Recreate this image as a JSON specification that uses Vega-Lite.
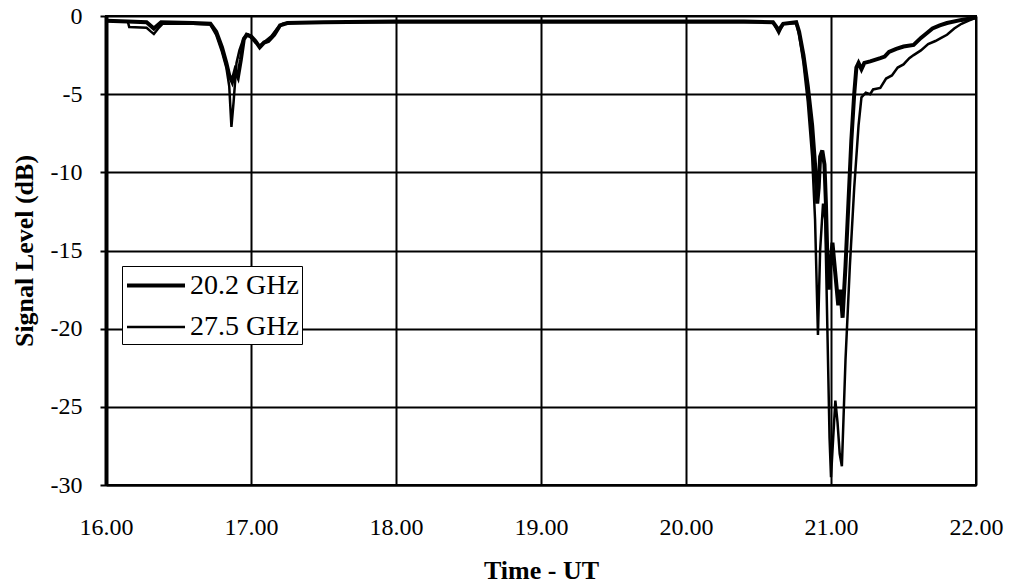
{
  "$schema": "https://vega.github.io/schema/vega-lite/v6.json",
  "autosize": "none",
  "padding": {"left": 106, "top": 16, "right": 36, "bottom": 99},
  "width": 870,
  "height": 469,
  "background": "white",
  "config": {
    "view": {"stroke": "black", "strokeWidth": 2},
    "font": "Liberation Serif"
  },
  "datasets": {
    "s20": [
      {"t": 16.00, "v": -0.3}, {"t": 16.15, "v": -0.35}, {"t": 16.28, "v": -0.4}, {"t": 16.33, "v": -0.8}, {"t": 16.38, "v": -0.4},
      {"t": 16.60, "v": -0.45}, {"t": 16.72, "v": -0.5}, {"t": 16.76, "v": -1.0}, {"t": 16.80, "v": -2.0}, {"t": 16.83, "v": -3.0},
      {"t": 16.85, "v": -3.8}, {"t": 16.87, "v": -4.2}, {"t": 16.89, "v": -3.5}, {"t": 16.91, "v": -3.9}, {"t": 16.93, "v": -2.8},
      {"t": 16.95, "v": -1.5}, {"t": 16.97, "v": -1.2}, {"t": 17.00, "v": -1.3}, {"t": 17.03, "v": -1.6}, {"t": 17.06, "v": -2.0},
      {"t": 17.09, "v": -1.7}, {"t": 17.12, "v": -1.6}, {"t": 17.16, "v": -1.2}, {"t": 17.20, "v": -0.6}, {"t": 17.25, "v": -0.45},
      {"t": 17.50, "v": -0.4}, {"t": 18.00, "v": -0.35}, {"t": 18.50, "v": -0.35}, {"t": 19.00, "v": -0.35}, {"t": 19.50, "v": -0.35},
      {"t": 20.00, "v": -0.35}, {"t": 20.40, "v": -0.35}, {"t": 20.60, "v": -0.4}, {"t": 20.64, "v": -0.9}, {"t": 20.67, "v": -0.5},
      {"t": 20.76, "v": -0.4}, {"t": 20.78, "v": -1.0}, {"t": 20.81, "v": -2.5}, {"t": 20.84, "v": -4.5}, {"t": 20.87, "v": -7.0},
      {"t": 20.89, "v": -9.5}, {"t": 20.905, "v": -12.0}, {"t": 20.915, "v": -11.0}, {"t": 20.925, "v": -9.0}, {"t": 20.94, "v": -8.6},
      {"t": 20.955, "v": -9.5}, {"t": 20.965, "v": -12.0}, {"t": 20.975, "v": -15.5}, {"t": 20.985, "v": -17.5}, {"t": 20.995, "v": -16.0},
      {"t": 21.01, "v": -14.5}, {"t": 21.02, "v": -15.5}, {"t": 21.035, "v": -17.0}, {"t": 21.05, "v": -18.5}, {"t": 21.065, "v": -17.5},
      {"t": 21.08, "v": -19.3}, {"t": 21.10, "v": -16.0}, {"t": 21.12, "v": -12.0}, {"t": 21.14, "v": -8.0}, {"t": 21.16, "v": -5.0},
      {"t": 21.175, "v": -3.3}, {"t": 21.19, "v": -3.0}, {"t": 21.21, "v": -3.4}, {"t": 21.23, "v": -3.0}, {"t": 21.27, "v": -2.9},
      {"t": 21.34, "v": -2.7}, {"t": 21.37, "v": -2.6}, {"t": 21.40, "v": -2.3}, {"t": 21.45, "v": -2.1}, {"t": 21.50, "v": -1.95},
      {"t": 21.57, "v": -1.85}, {"t": 21.62, "v": -1.4}, {"t": 21.66, "v": -1.1}, {"t": 21.70, "v": -0.8}, {"t": 21.75, "v": -0.6},
      {"t": 21.80, "v": -0.45}, {"t": 21.90, "v": -0.25}, {"t": 22.00, "v": -0.1}
    ],
    "s27": [
      {"t": 16.00, "v": -0.3}, {"t": 16.15, "v": -0.35}, {"t": 16.16, "v": -0.7}, {"t": 16.28, "v": -0.75}, {"t": 16.31, "v": -1.0},
      {"t": 16.33, "v": -1.15}, {"t": 16.36, "v": -0.8}, {"t": 16.39, "v": -0.5}, {"t": 16.60, "v": -0.5}, {"t": 16.72, "v": -0.55},
      {"t": 16.76, "v": -1.2}, {"t": 16.80, "v": -2.3}, {"t": 16.83, "v": -3.3}, {"t": 16.85, "v": -4.5}, {"t": 16.865, "v": -7.1},
      {"t": 16.88, "v": -5.5}, {"t": 16.90, "v": -3.0}, {"t": 16.92, "v": -2.2}, {"t": 16.95, "v": -1.4}, {"t": 16.98, "v": -1.2},
      {"t": 17.00, "v": -1.4}, {"t": 17.03, "v": -1.7}, {"t": 17.06, "v": -1.9}, {"t": 17.10, "v": -1.6}, {"t": 17.14, "v": -1.3},
      {"t": 17.18, "v": -0.8}, {"t": 17.22, "v": -0.5}, {"t": 17.30, "v": -0.4}, {"t": 18.00, "v": -0.4}, {"t": 19.00, "v": -0.4},
      {"t": 20.00, "v": -0.4}, {"t": 20.60, "v": -0.4}, {"t": 20.64, "v": -1.1}, {"t": 20.67, "v": -0.5}, {"t": 20.76, "v": -0.45},
      {"t": 20.78, "v": -1.2}, {"t": 20.81, "v": -3.0}, {"t": 20.84, "v": -5.5}, {"t": 20.87, "v": -9.0}, {"t": 20.89, "v": -13.0},
      {"t": 20.91, "v": -20.4}, {"t": 20.925, "v": -15.0}, {"t": 20.945, "v": -12.0}, {"t": 20.96, "v": -13.0}, {"t": 20.975, "v": -20.0},
      {"t": 20.99, "v": -27.0}, {"t": 21.00, "v": -29.5}, {"t": 21.015, "v": -27.0}, {"t": 21.03, "v": -24.6}, {"t": 21.045, "v": -26.0},
      {"t": 21.06, "v": -28.0}, {"t": 21.075, "v": -28.8}, {"t": 21.10, "v": -22.0}, {"t": 21.13, "v": -16.0}, {"t": 21.16, "v": -11.0},
      {"t": 21.19, "v": -7.0}, {"t": 21.21, "v": -5.2}, {"t": 21.24, "v": -4.9}, {"t": 21.27, "v": -5.0}, {"t": 21.29, "v": -4.7},
      {"t": 21.34, "v": -4.6}, {"t": 21.38, "v": -4.0}, {"t": 21.42, "v": -3.8}, {"t": 21.46, "v": -3.3}, {"t": 21.50, "v": -3.1},
      {"t": 21.54, "v": -2.7}, {"t": 21.57, "v": -2.5}, {"t": 21.62, "v": -2.2}, {"t": 21.67, "v": -1.8}, {"t": 21.72, "v": -1.6},
      {"t": 21.76, "v": -1.4}, {"t": 21.80, "v": -1.2}, {"t": 21.85, "v": -0.8}, {"t": 21.90, "v": -0.5}, {"t": 21.95, "v": -0.3},
      {"t": 22.00, "v": -0.1}
    ]
  },
  "layer": [
    {
      "data": {"name": "s20"},
      "transform": [{"calculate": "'20.2 GHz'", "as": "series"}],
      "mark": {"type": "line", "clip": true}
    },
    {
      "data": {"name": "s27"},
      "transform": [{"calculate": "'27.5 GHz'", "as": "series"}],
      "mark": {"type": "line", "clip": true}
    }
  ],
  "encoding": {
    "x": {
      "field": "t", "type": "quantitative",
      "scale": {"domain": [16, 22], "nice": false, "zero": false},
      "axis": {
        "values": [16, 17, 18, 19, 20, 21, 22], "format": ".2f", "labelFlush": false,
        "labelFont": "Liberation Serif", "labelFontSize": 24, "labelColor": "black",
        "tickSize": 0, "labelPadding": 30,
        "grid": true, "gridColor": "black", "gridWidth": 2, "gridOpacity": 1,
        "domainColor": "black", "domainWidth": 2,
        "title": "Time - UT", "titleFont": "Liberation Serif", "titleFontSize": 26, "titleFontWeight": "bold",
        "titleColor": "black", "titlePadding": 18
      }
    },
    "y": {
      "field": "v", "type": "quantitative",
      "scale": {"domain": [-30, 0], "nice": false},
      "axis": {
        "values": [0, -5, -10, -15, -20, -25, -30], "labelExpr": "toString(datum.value)", "labelFlush": false,
        "labelFont": "Liberation Serif", "labelFontSize": 24, "labelColor": "black",
        "tickSize": 6, "tickColor": "black", "tickWidth": 2, "labelPadding": 18,
        "grid": true, "gridColor": "black", "gridWidth": 2, "gridOpacity": 1,
        "domainColor": "black", "domainWidth": 4,
        "title": "Signal Level (dB)", "titleFont": "Liberation Serif", "titleFontSize": 26, "titleFontWeight": "bold",
        "titleColor": "black", "titlePadding": 13
      }
    },
    "color": {
      "field": "series", "type": "nominal",
      "scale": {"domain": ["20.2 GHz", "27.5 GHz"], "range": ["black", "black"]},
      "legend": {
        "title": null, "orient": "none", "legendX": 16, "legendY": 250,
        "symbolType": "M-1,0H3", "symbolSize": 841,
        "labelFont": "Liberation Serif", "labelFontSize": 28, "labelColor": "black", "labelOffset": 32,
        "strokeColor": "black", "fillColor": "white", "padding": 3, "rowPadding": 11
      }
    },
    "strokeWidth": {
      "field": "series", "type": "nominal",
      "scale": {"domain": ["20.2 GHz", "27.5 GHz"], "range": [4, 2.5]},
      "legend": {
        "title": null, "orient": "none", "legendX": 16, "legendY": 250,
        "symbolType": "M-1,0H3", "symbolSize": 841,
        "labelFont": "Liberation Serif", "labelFontSize": 28, "labelColor": "black", "labelOffset": 32,
        "strokeColor": "black", "fillColor": "white", "padding": 3, "rowPadding": 11
      }
    }
  }
}
